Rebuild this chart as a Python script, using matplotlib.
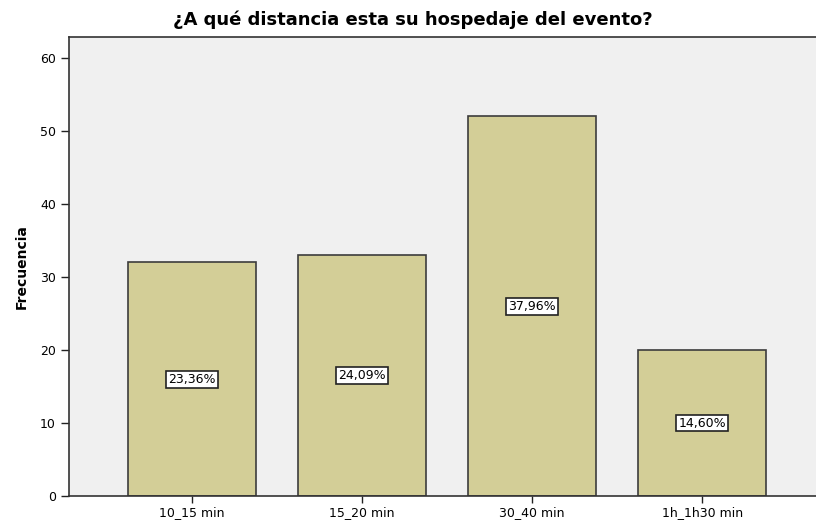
import matplotlib.pyplot as plt

plt.rcParams['font.family'] = ['DejaVu Sans']

categorias = ['10_15 min', '15_20 min', '30_40 min', '1h_1h30 min']
frecuencias = [32, 33, 52, 20]
porcentajes = ['23,36%', '24,09%', '37,96%', '14,60%']

fig = plt.figure(figsize=(8.16, 5.2), dpi=100)
ax = fig.add_axes([0.0846, 0.046, 0.9154, 0.883])
ax.set_facecolor('#f0f0f0')

x = range(len(categorias))
barras = ax.bar(x, frecuencias, width=0.753, color='#d3ce97',
                edgecolor='#3c3c3c', linewidth=1.2, zorder=2)

for b, p in zip(barras, porcentajes):
    ax.text(b.get_x() + b.get_width() / 2, b.get_height() / 2, p,
            ha='center', va='center', fontsize=9, zorder=3,
            bbox=dict(boxstyle='square,pad=0.15', fc='white',
                      ec='#222222', lw=1.2))

ax.set_xlim(-0.724, 3.67)
ax.set_ylim(0, 62.9)
ax.set_yticks(range(0, 61, 10))
ax.set_xticks(list(x))
ax.set_xticklabels(categorias, fontsize=9)
ax.tick_params(axis='y', labelsize=9, length=6, width=1, color='#222222')
ax.tick_params(axis='x', length=5, width=1, color='#222222', pad=2)

for s in ['left', 'bottom', 'top']:
    ax.spines[s].set_color('#333333')
    ax.spines[s].set_linewidth(1.2)
ax.spines['right'].set_visible(False)

ax.set_ylabel('Frecuencia', fontsize=10, fontweight='bold', labelpad=8)
fig.text(0.506, 0.962, '¿A qué distancia esta su hospedaje del evento?',
         ha='center', va='center', fontsize=13, fontweight='bold')

plt.savefig('out.png', dpi=100)
